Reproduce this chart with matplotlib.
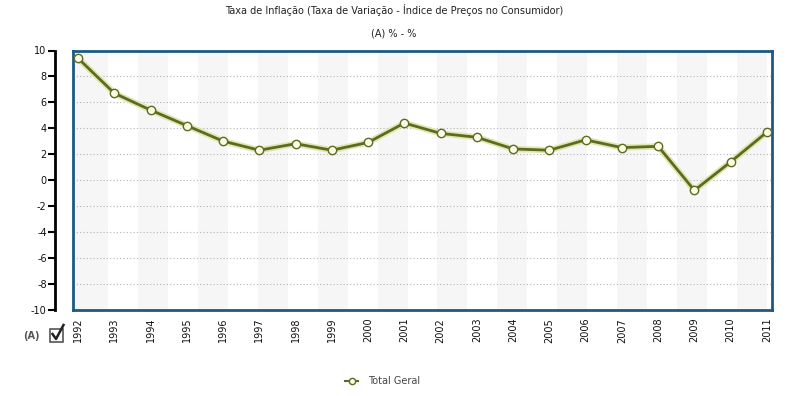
import matplotlib
matplotlib.use("Agg")
import matplotlib.pyplot as plt
from matplotlib.patches import Rectangle
from matplotlib.lines import Line2D
import numpy as np

years = [1992, 1993, 1994, 1995, 1996, 1997, 1998, 1999, 2000, 2001,
         2002, 2003, 2004, 2005, 2006, 2007, 2008, 2009, 2010, 2011]
values = [9.4, 6.7, 5.4, 4.2, 3.0, 2.3, 2.8, 2.3, 2.9, 4.4,
          3.6, 3.3, 2.4, 2.3, 3.1, 2.5, 2.6, -0.8, 1.4, 3.7]
y_ticks = [-10, -8, -6, -4, -2, 0, 2, 4, 6, 8, 10]
title = "Taxa de Inflação (Taxa de Variação - Índice de Preços no Consumidor)"
subtitle = "(A) % - %"
series_name = "Total Geral"

W, H = 788, 396
fig = plt.figure(figsize=(W / 100, H / 100), dpi=100)
fig.patch.set_facecolor("white")

def fx(px):
    return px / W

def fy(py):
    return 1 - py / H

ax_l, ax_r, ax_t, ax_b = 73, 772, 50.5, 309.5
ax = fig.add_axes([fx(ax_l), fy(ax_b), fx(ax_r - ax_l), (ax_b - ax_t) / H])
ax.set_xlim(years[0] - 0.14, years[-1] + 0.14)
ax.set_ylim(-10, 10)
ax.set_facecolor("white")

# alternating background bands
n_bands = 23
bw = (years[-1] - years[0]) / n_bands
for i in range(0, n_bands, 2):
    start = years[0] + i * bw
    if i == 0:
        start = years[0] - 0.1
    ax.axvspan(start, years[0] + (i + 1) * bw, color="#f6f6f6", lw=0, zorder=0)

for yv in y_ticks[1:-1]:
    ax.axhline(yv, color="#b4b4b4", lw=0.8, ls=(0, (1, 2)), zorder=1)

# line with glow
ax.plot(years, values, color="#e2e6b0", lw=4.5, zorder=2, solid_capstyle="round")
ax.plot(years, values, color="#5c6b1f", lw=2.0, zorder=3,
        marker="o", ms=6, mfc="#fdfbe6", mec="#5c6b1f", mew=1.0)

for s in ax.spines.values():
    s.set_color("#1c5a84")
    s.set_linewidth(2)
ax.set_yticks([])
ax.set_xticks(years)
ax.set_xticklabels([str(y) for y in years], rotation=90, fontsize=7, va="top", color="#111111")
ax.tick_params(axis="x", length=0, pad=6)

# separate left scale
ax2 = fig.add_axes([fx(55), fy(ax_b), 0.001, (ax_b - ax_t) / H])
ax2.set_ylim(-10, 10)
ax2.set_xlim(0, 1)
ax2.patch.set_visible(False)
for k in ["top", "right", "bottom"]:
    ax2.spines[k].set_visible(False)
ax2.spines["left"].set_linewidth(2)
ax2.spines["left"].set_color("black")
ax2.set_xticks([])
ax2.set_yticks(y_ticks)
ax2.set_yticklabels([str(v) for v in y_ticks], fontsize=7, color="#111111")
ax2.tick_params(axis="y", length=5, width=1.5, pad=1)

fig.text(0.5, fy(10), title, ha="center", va="center", fontsize=7, color="#222222")
fig.text(0.5, fy(33), subtitle, ha="center", va="center", fontsize=7, color="#222222")

# (A) and checkbox
fig.text(fx(31), fy(336), "(A)", ha="center", va="center", fontsize=7,
         fontweight="bold", color="#555555")
fig.patches.append(Rectangle((fx(50), fy(342)), fx(13), 13 / H, transform=fig.transFigure,
                             fill=True, fc="white", ec="#555555", lw=1.2))
fig.lines.append(Line2D([fx(52.5), fx(56), fx(63.5)], [fy(334), fy(339), fy(325)],
                        transform=fig.transFigure, color="#222222", lw=1.8))

# legend
fig.lines.append(Line2D([fx(345), fx(358)], [fy(381), fy(381)], transform=fig.transFigure,
                        color="#5c6b1f", lw=1.5))
fig.lines.append(Line2D([fx(351.5)], [fy(381)], transform=fig.transFigure,
                        marker="o", ms=4.5, mfc="#fdfbe6", mec="#5c6b1f", mew=1.0, lw=0))
fig.text(fx(368), fy(381), series_name, ha="left", va="center", fontsize=7, color="#444444")

fig.savefig("out.png", dpi=100)
